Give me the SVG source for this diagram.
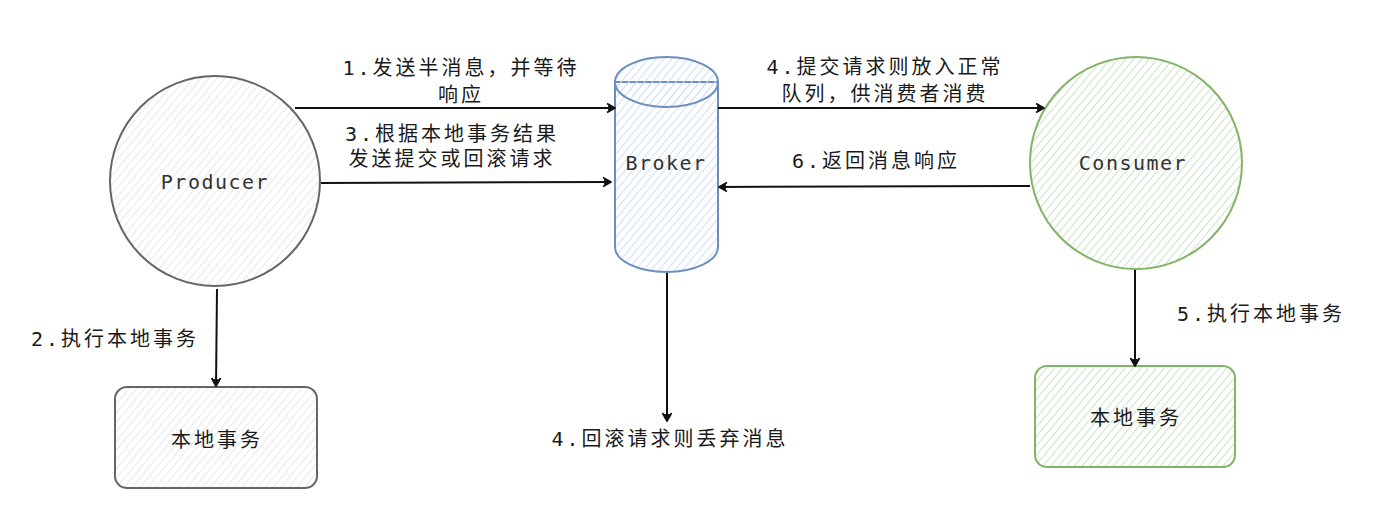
<svg xmlns="http://www.w3.org/2000/svg" width="1382" height="512" viewBox="0 0 1382 512">
  <defs>
    <pattern id="hGrey" width="6" height="6" patternUnits="userSpaceOnUse" patternTransform="rotate(40)">
      <line x1="0" y1="0" x2="0" y2="6" stroke="#e8e8e8" stroke-width="2"/>
    </pattern>
    <pattern id="hBlue" width="6" height="6" patternUnits="userSpaceOnUse" patternTransform="rotate(40)">
      <line x1="0" y1="0" x2="0" y2="6" stroke="#cfe0f8" stroke-width="2"/>
    </pattern>
    <pattern id="hGreen" width="6" height="6" patternUnits="userSpaceOnUse" patternTransform="rotate(40)">
      <line x1="0" y1="0" x2="0" y2="6" stroke="#c9e3c6" stroke-width="2"/>
    </pattern>
    <marker id="arr" markerWidth="12" markerHeight="12" refX="10" refY="6" orient="auto" markerUnits="userSpaceOnUse">
      <path d="M2,1.5 L10,6 L2,10.5 M4,3.5 L4,8.5 L9,6 Z" fill="none" stroke="#111" stroke-width="1.8" stroke-linejoin="round"/>
    </marker>
    <style>
      .grey { fill: url(#hGrey); stroke: #666666; stroke-width: 2; }
      .blue { fill: url(#hBlue); stroke: #6c8ebf; stroke-width: 2; }
      .green { fill: url(#hGreen); stroke: #82b366; stroke-width: 2; }
      .name { font-family: "DejaVu Sans Mono", "Liberation Mono", monospace; font-size: 20px; letter-spacing: 1.5px; fill: #333333; text-anchor: middle; }
      .cn { font-family: "DejaVu Sans Mono", "Noto Sans CJK SC", sans-serif; font-size: 20px; letter-spacing: 3px; fill: #1a1a1a; text-anchor: middle; }
      .conn line { stroke: #111111; stroke-width: 2; fill: none; marker-end: url(#arr); }
    </style>
  </defs>

  <g id="producer">
    <circle class="grey" cx="215" cy="181" r="105"/>
    <text class="name" x="215" y="189">Producer</text>
  </g>

  <g id="broker">
    <path class="blue" d="M615,82 L615,247 A51.5,25 0 0 0 718,247 L718,82 Z"/>
    <ellipse class="blue" cx="666.5" cy="82" rx="51.5" ry="25"/>
    <text class="name" x="666" y="170">Broker</text>
  </g>

  <g id="consumer">
    <circle class="green" cx="1136" cy="163" r="106"/>
    <text class="name" x="1133" y="170">Consumer</text>
  </g>

  <g id="producer-tx">
    <rect class="grey" x="115" y="387" width="202" height="101" rx="12" ry="12"/>
    <text class="cn" x="217" y="447">本地事务</text>
  </g>

  <g id="consumer-tx">
    <rect class="green" x="1035" y="366" width="200" height="101" rx="12" ry="12"/>
    <text class="cn" x="1136" y="425">本地事务</text>
  </g>

  <g id="connectors" class="conn">
    <line x1="295" y1="108" x2="615" y2="108"/>
    <line x1="321" y1="183" x2="611" y2="182"/>
    <line x1="217" y1="289" x2="216" y2="386"/>
    <line x1="718" y1="108" x2="1044" y2="108"/>
    <line x1="1030" y1="186" x2="719" y2="187"/>
    <line x1="667" y1="273" x2="667" y2="421"/>
    <line x1="1135" y1="270" x2="1135" y2="366"/>
  </g>

  <g id="labels">
    <text class="cn" x="461" y="75">1.发送半消息，并等待</text>
    <text class="cn" x="461" y="102">响应</text>
    <text class="cn" x="452" y="141">3.根据本地事务结果</text>
    <text class="cn" x="452" y="166">发送提交或回滚请求</text>
    <text class="cn" x="115" y="346">2.执行本地事务</text>
    <text class="cn" x="885" y="74">4.提交请求则放入正常</text>
    <text class="cn" x="885" y="101">队列，供消费者消费</text>
    <text class="cn" x="876" y="168">6.返回消息响应</text>
    <text class="cn" x="670" y="446">4.回滚请求则丢弃消息</text>
    <text class="cn" x="1261" y="321">5.执行本地事务</text>
  </g>
</svg>
